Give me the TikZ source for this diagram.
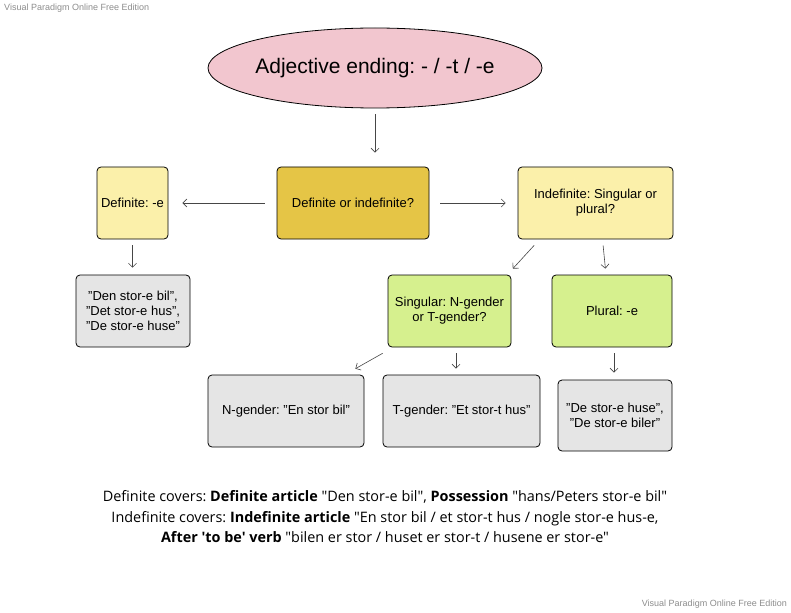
\documentclass[tikz,border=0pt]{standalone}
\usepackage{fontspec}
\setmainfont{Liberation Sans}
\newfontfamily\notefont{Open Sans}
\usetikzlibrary{arrows.meta,positioning,shapes.geometric}
\definecolor{titlepink}{RGB}{242,198,207}
\definecolor{choicegold}{RGB}{229,197,70}
\definecolor{paleyellow}{RGB}{251,240,170}
\definecolor{palegreen}{RGB}{214,240,142}
\definecolor{palegray}{RGB}{229,229,229}
\definecolor{arrowgray}{RGB}{70,70,70}
\frenchspacing
\begin{document}
\begin{tikzpicture}[x=1pt,y=-1pt,
box/.style={draw,thick,rounded corners=4pt,align=center,inner sep=2pt,font=\fontsize{13}{15}\selectfont,minimum height=72pt},
arr/.style={-{Straight Barb[length=4pt,width=8pt]},draw=arrowgray,semithick},
wmark/.style={text=black!45,font=\fontsize{9}{10}\selectfont,inner sep=0pt}]
\useasboundingbox (0,0) rectangle (791,612);
\node[wmark,anchor=west] (wmtop) at (4,8) {Visual Paradigm Online Free Edition};
\node[wmark,anchor=east] (wmbot) at (787,604) {Visual Paradigm Online Free Edition};
\node[ellipse,draw,thick,fill=titlepink,minimum width=334pt,minimum height=80pt,font=\fontsize{21}{24}\selectfont] (title) at (375,68) {\makebox[0pt]{Adjective ending: - / -t / -e}};
\node[box,fill=choicegold,minimum width=152pt] (choice) at (353,203) {Definite or indefinite?};
\node[box,fill=paleyellow,minimum width=71pt] (defin) at (132.5,203) {Definite: -e};
\node[box,fill=paleyellow,minimum width=155pt] (indef) at (595.5,203) {Indefinite: Singular or\\plural?};
\node[box,fill=palegray,minimum width=114pt] (defex) at (133,311) {"Den stor-e bil",\\"Det stor-e hus",\\"De stor-e huse"};
\node[box,fill=palegreen,minimum width=123pt] (sing) at (449.5,311) {Singular: N-gender\\or T-gender?};
\node[box,fill=palegreen,minimum width=120pt] (plur) at (612,311) {Plural: -e};
\node[box,fill=palegray,minimum width=156pt] (ngen) at (286,411) {N-gender: "En stor bil"};
\node[box,fill=palegray,minimum width=157pt] (tgen) at (461.5,411) {T-gender: "Et stor-t hus"};
\node[box,fill=palegray,minimum width=114pt,minimum height=71pt] (plurex) at (615,415.5) {"De stor-e huse",\\"De stor-e biler"};
\node[align=center,font=\notefont\fontsize{14.4}{20.5}\selectfont] (note) at (385,517) {Definite covers: \textbf{Definite article} "Den stor-e bil", \textbf{Possession} "hans/Peters stor-e bil"\\Indefinite covers: \textbf{Indefinite article} "En stor bil / et stor-t hus / nogle stor-e hus-e,\\\textbf{After 'to be' verb} "bilen er stor / huset er stor-t / husene er stor-e"};
% connectors
\draw[arr,shorten <=6pt,shorten >=14pt] (title.south) -- (title.south |- choice.north);
\draw[arr,shorten <=12pt,shorten >=14pt] (choice.west) -- (defin.east);
\draw[arr,shorten <=11pt,shorten >=12pt] (choice.east) -- (indef.west);
\draw[arr,shorten <=6pt,shorten >=7pt] (defin.south) -- (defin.south |- defex.north);
\draw[arr,shorten <=8pt,shorten >=8pt] ([xshift=22pt]indef.south west) -- ([xshift=-4pt]sing.north east);
\draw[arr,shorten <=6pt,shorten >=6pt] ([xshift=7pt]indef.south) -- ([xshift=-6pt]plur.north);
\draw[arr,shorten <=12pt,shorten >=12pt] ([xshift=5.5pt]sing.south west) -- ([xshift=-19.5pt]ngen.north east);
\draw[arr,shorten <=6pt,shorten >=6pt] ([xshift=6.5pt]sing.south) -- ([xshift=6.5pt]sing.south |- tgen.north);
\draw[arr,shorten <=6pt,shorten >=7pt] ([xshift=2pt]plur.south) -- ([xshift=2pt]plur.south |- plurex.north);
\end{tikzpicture}
\end{document}
